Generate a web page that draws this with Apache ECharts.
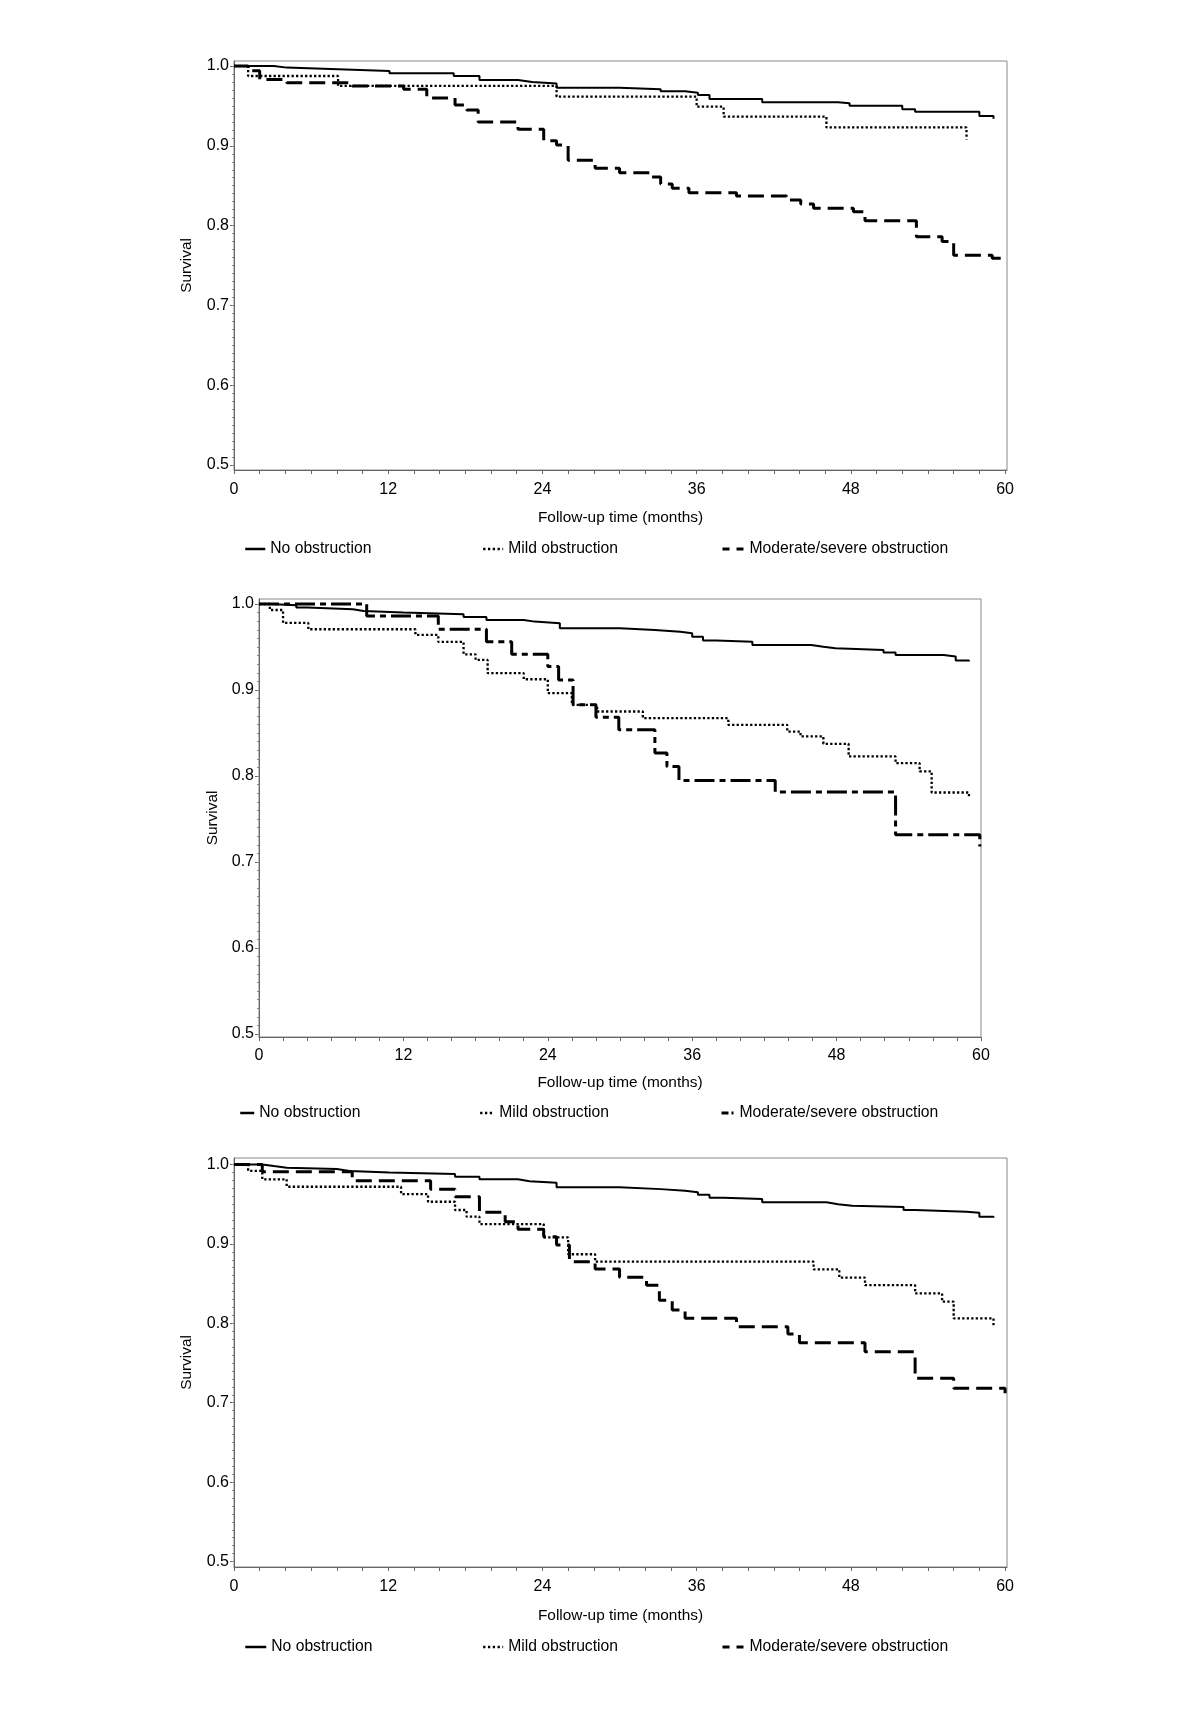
<!DOCTYPE html>
<html><head><meta charset="utf-8">
<script src="https://cdn.jsdelivr.net/npm/echarts@6/dist/echarts.min.js"></script>
<style>html,body{margin:0;padding:0;background:#fff}#c{width:1200px;height:1734px}</style>
</head><body><div id="c"></div>
<script>
const seriesNames = ['No obstruction', 'Mild obstruction', 'Moderate/severe obstruction'];
const xTitle = 'Follow-up time (months)';
const yTitle = 'Survival';
const xLabelValues = [0, 12, 24, 36, 48, 60];
const yLabelValues = [0.5, 0.6, 0.7, 0.8, 0.9, 1.0];

// Panel 1 (top)
const p1None = [[0,1],[3.1,0.998],[4.1,0.996],[8.1,0.9937],[12.1,0.9908],[17.1,0.9875],[19.1,0.9825],[22.1,0.980],[23.2,0.978],[25.1,0.9728],[30.0,0.971],[33.2,0.9683],[35.1,0.9666],[36.1,0.9636],[37.0,0.9586],[41.1,0.9545],[47.0,0.9532],[47.9,0.9503],[52.0,0.9457],[53.0,0.9428],[58.0,0.9373],[59.1,0.934]];
const p1Mild = [[0,1],[1.1,0.9875],[8.1,0.975],[25.1,0.9616],[36.0,0.949],[38.1,0.9365],[46.1,0.923],[57.0,0.908]];
const p1Mod = [[0,1],[1.1,0.994],[2.0,0.983],[4.1,0.979],[9.2,0.975],[13.2,0.9708],[15.0,0.960],[17.2,0.951],[18.1,0.9449],[19.0,0.930],[22.1,0.9207],[24.1,0.9064],[25.1,0.901],[26.0,0.882],[28.1,0.872],[30.0,0.8663],[32.4,0.861],[33.2,0.852],[34.1,0.8467],[35.4,0.8413],[39.1,0.837],[43.0,0.832],[44.1,0.827],[45.1,0.8216],[48.2,0.8174],[49.1,0.806],[53.1,0.786],[55.1,0.780],[56.0,0.763],[59.0,0.759],[60.0,0.756]];

// Panel 2 (middle)
const p2None = [[0,1],[0.9,0.9985],[3.1,0.996],[4.0,0.994],[7.8,0.9919],[8.7,0.990],[12.0,0.988],[17.0,0.985],[18.9,0.9814],[22.0,0.9795],[22.9,0.9776],[25.0,0.9717],[30.0,0.9698],[32.9,0.9678],[35.0,0.966],[36.0,0.962],[36.9,0.9574],[38.0,0.956],[41.0,0.9524],[45.9,0.9504],[46.9,0.9485],[47.9,0.9466],[51.9,0.9435],[52.9,0.9408],[56.9,0.939],[57.9,0.9342],[59.0,0.933]];
const p2Mild = [[0,1],[0.9,0.993],[2.0,0.978],[4.1,0.9706],[13.0,0.964],[14.9,0.956],[17.0,0.9415],[18.0,0.935],[19.0,0.9195],[22.0,0.9125],[24.0,0.8963],[26.0,0.8827],[28.1,0.875],[31.9,0.8672],[39.0,0.8594],[43.9,0.8517],[45.0,0.846],[46.9,0.8374],[49.0,0.8227],[52.9,0.815],[54.9,0.8053],[55.9,0.7808],[59.0,0.776]];
const p2Mod = [[0,1],[8.95,0.986],[14.9,0.9706],[18.9,0.9562],[21.0,0.9416],[24.0,0.9272],[24.9,0.9117],[26.1,0.8827],[28.0,0.8684],[29.9,0.8537],[32.9,0.8266],[33.9,0.811],[34.9,0.7948],[42.9,0.7813],[52.9,0.7317],[59.9,0.718]];

// Panel 3 (bottom)
const p3None = [[0,1],[2.2,0.998],[3.1,0.996],[4.1,0.9943],[8.0,0.9918],[9.0,0.990],[12.1,0.988],[17.2,0.9847],[19.1,0.9813],[22.1,0.979],[23.0,0.977],[25.1,0.9713],[30.0,0.969],[33.2,0.967],[35.1,0.965],[36.1,0.962],[37.0,0.958],[38.1,0.9566],[41.1,0.9524],[46.1,0.950],[47.0,0.948],[48.1,0.9465],[52.1,0.9427],[53.0,0.9406],[57.0,0.9393],[58.0,0.9343],[59.1,0.933]];
const p3Mild = [[0,1],[1.1,0.992],[2.2,0.9814],[4.1,0.972],[13.0,0.9628],[15.1,0.9531],[17.2,0.9427],[18.1,0.9343],[19.1,0.925],[24.1,0.9083],[26.0,0.887],[28.1,0.8776],[45.1,0.868],[47.1,0.8575],[49.1,0.848],[53.0,0.8378],[55.1,0.8272],[56.0,0.8063],[59.1,0.7966]];
const p3Mod = [[0,1],[2.2,0.991],[9.2,0.9796],[15.3,0.9687],[17.2,0.9594],[19.1,0.940],[21.1,0.928],[22.1,0.9184],[24.1,0.909],[25.1,0.8986],[26.1,0.8776],[28.1,0.8684],[30.0,0.858],[32.1,0.848],[33.1,0.829],[34.1,0.8167],[35.1,0.8063],[39.1,0.7957],[43.1,0.7865],[44.0,0.7756],[49.1,0.7642],[53.0,0.7307],[56.0,0.7181],[60.0,0.712]];

const FONT = '"Liberation Sans", Arial, sans-serif';
const FS_TICK = 16, FS_TITLE = 15.4, FS_LEGEND = 15.7;
const AX = '#666';

const panels = [
  { data: [p1None, p1Mild, p1Mod], grid: {left: 234, top: 61, width: 773, height: 409},
    xMax: 60.15, yMin: 0.4937, yMax: 1.0063, yGap: 40, xNameGap: 40, xMargin: 12,
    legendTop: 541, legendLeft: [244, 482, 721], legendW: [20, 20, 22],
    modDash: [16, 7], modLegendDash: [7, 7] },
  { data: [p2None, p2Mild, p2Mod], grid: {left: 259, top: 599, width: 722, height: 438},
    xMax: 60.0, yMin: 0.4965, yMax: 1.0058, yGap: 39, xNameGap: 38, xMargin: 11,
    legendTop: 1105, legendLeft: [239, 479, 720], legendW: [14, 14, 13],
    modDash: [20, 5, 6, 5], modLegendDash: [7, 3, 2, 3] },
  { data: [p3None, p3Mild, p3Mod], grid: {left: 234, top: 1158, width: 773, height: 409},
    xMax: 60.15, yMin: 0.4931, yMax: 1.0082, yGap: 40, xNameGap: 41, xMargin: 12,
    legendTop: 1639, legendLeft: [244, 482, 721], legendW: [21, 20, 22],
    modDash: [16, 7], modLegendDash: [7, 7] }
];

const xTickValues = [];
for (let v = 0; v <= 60; v += 2) xTickValues.push(v);
const yMinorValues = [];
for (let i = 50; i <= 100; i++) yMinorValues.push(i / 100);

const grid = [], xAxis = [], yAxis = [], series = [], legend = [];
panels.forEach((p, pi) => {
  grid.push(Object.assign({ show: true, borderColor: '#888', borderWidth: 1, containLabel: false }, p.grid));
  xAxis.push({
    type: 'value', gridIndex: pi, min: 0, max: p.xMax,
    name: xTitle, nameLocation: 'middle', nameGap: p.xNameGap,
    nameTextStyle: { fontFamily: FONT, fontSize: FS_TITLE, color: '#000' },
    axisLine: { show: true, onZero: false, lineStyle: { color: AX, width: 1 } },
    axisTick: { show: true, inside: false, length: 4, customValues: xTickValues, lineStyle: { color: AX } },
    axisLabel: { show: true, customValues: xLabelValues, margin: p.xMargin, fontFamily: FONT, fontSize: FS_TICK, color: '#000',
                 formatter: v => String(Math.round(v)) },
    splitLine: { show: false }
  });
  yAxis.push({
    type: 'value', gridIndex: pi, min: p.yMin, max: p.yMax, position: 'left',
    name: yTitle, nameLocation: 'middle', nameGap: p.yGap, nameRotate: 90,
    nameTextStyle: { fontFamily: FONT, fontSize: FS_TITLE, color: '#000' },
    axisLine: { show: true, lineStyle: { color: AX, width: 1 } },
    axisTick: { show: true, inside: false, length: 4, customValues: yLabelValues, lineStyle: { color: AX } },
    axisLabel: { show: true, customValues: yLabelValues, margin: 5, fontFamily: FONT, fontSize: FS_TICK, color: '#000',
                 formatter: v => v.toFixed(1) },
    splitLine: { show: false }
  });
  yAxis.push({
    type: 'value', gridIndex: pi, min: p.yMin, max: p.yMax, position: 'left', offset: 0,
    axisLine: { show: false },
    axisTick: { show: true, inside: false, length: 2, customValues: yMinorValues, lineStyle: { color: '#888' } },
    axisLabel: { show: false },
    splitLine: { show: false }
  });
  const styles = [
    { color: '#000', width: 2, type: 'solid' },
    { color: '#000', width: 2.3, type: [2.3, 2.2] },
    { color: '#000', width: 3, type: p.modDash }
  ];
  const legendStyles = [
    { color: '#000', width: 2.5, type: 'solid' },
    { color: '#000', width: 2.3, type: [2.3, 2.5] },
    { color: '#000', width: 3, type: p.modLegendDash }
  ];
  p.data.forEach((d, k) => {
    series.push({
      type: 'line', name: seriesNames[k], xAxisIndex: pi, yAxisIndex: pi * 2,
      data: d, step: 'end', symbol: 'none', showSymbol: false, silent: true,
      lineStyle: styles[k], itemStyle: { color: '#000' }, clip: false
    });
    legend.push({
      left: p.legendLeft[k], top: p.legendTop, padding: 0, orient: 'horizontal',
      itemWidth: p.legendW[k], itemHeight: 14, selectedMode: false,
      textStyle: { fontFamily: FONT, fontSize: FS_LEGEND, color: '#000' },
      data: [{ name: seriesNames[k], lineStyle: legendStyles[k], itemStyle: { color: '#000', opacity: 0 } }]
    });
  });
});

const chart = echarts.init(document.getElementById('c'), null, { renderer: 'canvas' });
chart.setOption({
  animation: false,
  backgroundColor: '#fff',
  grid, xAxis, yAxis, series, legend
});
</script>
</body></html>
